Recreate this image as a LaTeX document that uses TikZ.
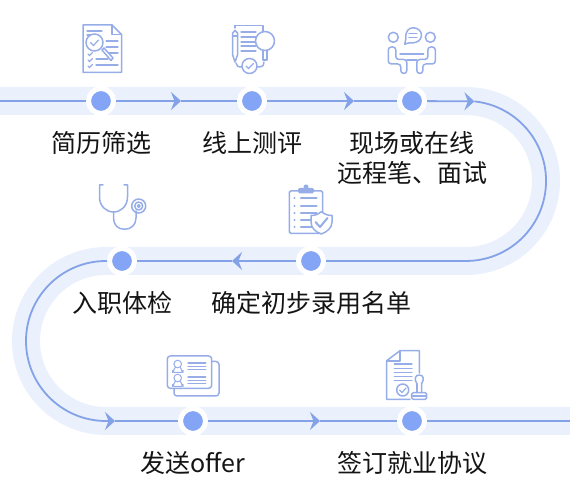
\documentclass[tikz,border=0pt]{standalone}
\usepackage{fontspec}
\setmainfont{Noto Sans CJK SC}
\usepackage{xcolor}
\definecolor{bandbg}{RGB}{234,240,252}
\definecolor{flowline}{RGB}{132,162,232}
\definecolor{dotfill}{RGB}{132,165,245}
\definecolor{iconline}{RGB}{150,173,232}
\definecolor{labeltext}{RGB}{20,20,20}
\usetikzlibrary{arrows.meta,positioning}
\tikzset{
  band/.style={draw=bandbg,line width=28pt},
  flow/.style={draw=flowline,line width=1.8pt},
  flowarr/.style={flow,-{Stealth[length=10pt,width=18pt,inset=3.5pt]}},
  dot/.style={circle,draw=white,fill=dotfill,line width=5pt,
    minimum size=25pt,inner sep=0pt},
  lbl/.style={align=center,text=labeltext,inner sep=0pt,
    font=\fontsize{25}{30}\selectfont},
  icon/.style={draw=iconline,line width=1.5pt,line cap=round,line join=round},
  iconbar/.style={draw=iconline,line width=1.2pt,line cap=round},
}

\begin{document}
\begin{tikzpicture}[x=1pt,y=1pt,node distance=15.5pt]
  \useasboundingbox (0,0) rectangle (570,500);
  \coordinate (lin)  at (0,399);
  \coordinate (tr)   at (466,399);
  \coordinate (tl)   at (106,239);
  \coordinate (lout) at (570,79);
  % arrow tips sit on these
  \coordinate (a1) at (181,399);
  \coordinate (a2) at (354,399);
  \coordinate (a3) at (474.4,398.6);
  \coordinate (a4) at (232,239);
  \coordinate (a5) at (115,79);
  \coordinate (a6) at (320,79);

  \draw[band] (lin) -- (tr) arc[start angle=90,end angle=-90,radius=80]
    -- (tl) arc[start angle=90,end angle=270,radius=80] -- (lout);

  \node (cv)    [dot] at (101,399) {};
  \node (test)  [dot] at (252,399) {};
  \node (site)  [dot] at (412,399) {};
  \node (list)  [dot] at (311,239) {};
  \node (exam)  [dot] at (122,239) {};
  \node (offer) [dot] at (193,79)  {};
  \node (sign)  [dot] at (412,79)  {};

  \node (lcv)    [lbl, below=of cv]    {简历筛选};
  \node (ltest)  [lbl, below=of test]  {线上测评};
  \node (lsite)  [lbl, below=of site]  {现场或在线\\远程笔、面试};
  \node (llist)  [lbl, below=of list]  {确定初步录用名单};
  \node (lexam)  [lbl, below=of exam]  {入职体检};
  \node (loffer) [lbl, below=of offer] {发送offer};
  \node (lsign)  [lbl, below=of sign]  {签订就业协议};

  \draw[flow] (lin) -- (cv);
  \draw[flowarr] (cv) -- (a1);
  \draw[flow] (a1) -- (test);
  \draw[flowarr] (test) -- (a2);
  \draw[flow] (a2) -- (site);
  \draw[flowarr] (site) -- (a3);
  \draw[flow] (a3) arc[start angle=84,end angle=-90,radius=80] -- (list);
  \draw[flowarr] (list) -- (a4);
  \draw[flow] (a4) -- (exam);
  \draw[flowarr] (exam) -- (tl) arc[start angle=90,end angle=270,radius=80] -- (a5);
  \draw[flow] (a5) -- (offer);
  \draw[flowarr] (offer) -- (a6);
  \draw[flow] (a6) -- (sign);
  \draw[flow] (sign) -- (lout);

  % icons, in image pixels with y going down
  \begin{scope}[shift={(0,500)},yscale=-1]
    % resume under a magnifier
    \draw[icon] (112,25) -- (83,25) -- (83,72.5) -- (121.5,72.5) -- (121.5,34.5) -- cycle;
    \draw[icon] (112,25) -- (112,34.5) -- (121.5,34.5);
    \foreach \ya/\xa/\xb in {31/87/102,35/87/95,41/106/118,47/106/118,53/108/118,59/96/108,65/96/118}
      \draw[iconbar] (\xa,\ya) -- (\xb,\ya);
    \foreach \ya in {54,60,66}
      \draw[iconbar] (88,\ya) -- (89.5,\ya+1.5) -- (92.5,\ya-1.5);
    \draw[icon,fill=white] (94.5,42.5) circle (8.5);
    \draw[iconbar] (90.5,42.5) -- (93.5,45.5) -- (98.5,40);
    \draw[icon,fill=white] (102,50) -- (104,48) -- (113,58) -- (111,60.5) -- cycle;

    % test paper, pen, magnifier
    \draw[icon] (235,28) -- (235,25.7) -- (263,25.7) -- (263,31);
    \draw[icon,fill=white] (232.7,33) -- (232.7,55) -- (235,62) -- (237.5,55) -- (237.5,33) -- (235,30.5) -- cycle;
    \draw[iconbar] (232.7,36) -- (237.5,36);
    \foreach \ya in {32,37,42,46,51}
      \draw[iconbar] (241,\ya) -- (256,\ya);
    \draw[icon,fill=white] (265,41) circle (9.5);
    \draw[icon] (263,50.5) -- (263,60) -- (267,60) -- (267,50.5);
    \draw[icon] (249.5,66) circle (7.5);
    \draw[iconbar] (246,66) -- (248.5,68.5) -- (253.5,63.5);
    \draw[icon] (236,63) .. controls (236,66) and (238,67) .. (242,67);
    \draw[icon] (257,67) -- (260,67) .. controls (263,67) and (264,65) .. (264,62);

    % two people at a table
    \draw[icon] (393.3,37.3) circle (5);
    \draw[icon] (430.3,37.3) circle (5);
    \draw[icon] (404.7,44.3) -- (405.8,39) .. controls (405,31) and (409,27.8) .. (413,27.8)
      .. controls (418,27.8) and (421.5,31) .. (421.5,35.3)
      .. controls (421.5,40) and (417,42.8) .. (413,42.8)
      .. controls (410.5,42.8) and (408.5,42.5) .. cycle;
    \draw[iconbar] (409,33.5) -- (417,33.5) (409,37.5) -- (417,37.5);
    \foreach \s in {1,-1} {
      \begin{scope}[shift={(411.8,0)},xscale=\s]
        \draw[icon,rounded corners=3pt] (-19,47) -- (-23.5,47) -- (-23.5,64) -- (-11,64)
          -- (-11,73.5) -- (-5,73.5) -- (-5,59.5) -- (-16,59.5) -- (-16,47) -- (-19,47);
      \end{scope}
    }
    \draw[icon] (400,54) -- (423.6,54);
    \draw[icon] (406.8,60) -- (416.8,60);

    % stethoscope
    \draw[icon] (103,185) -- (99.5,185) -- (99.5,197)
      .. controls (99.5,206) and (106,212) .. (113.5,212)
      .. controls (121,212) and (127.5,206) .. (127.5,197) -- (127.5,185) -- (124,185);
    \draw[icon] (113.5,212) -- (113.5,218) .. controls (113.5,225) and (118,229.3) .. (124.5,229.3)
      .. controls (131,229.3) and (136,225) .. (136,218) -- (136,211);
    \draw[icon] (138.7,206) circle (7);
    \draw[icon] (138.7,206) circle (4);
    \draw[icon] (138.7,206) circle (1.3);

    % checklist and shield
    \draw[icon,rounded corners=1.5pt] (298,191) -- (289.3,191) -- (289.3,233.3) -- (322.7,233.3) -- (322.7,191) -- (314,191);
    \fill[iconline,rounded corners=1.5pt] (298,193.5) rectangle (314,188);
    \fill[iconline] (306,187) circle (2.5);
    \foreach \ya in {198,206,213,220,227} {
      \draw[iconbar,line width=1.6pt] (300.7,\ya) -- (316.7,\ya);
      \fill[iconline] (294.5,\ya) circle (1.1);
    }
    \draw[icon,fill=white] (321.3,211.7) .. controls (325,214.5) and (328,215.5) .. (332,215.5)
      -- (332,222) .. controls (332,228) and (327,232) .. (321.3,234)
      .. controls (315.5,232) and (311,228) .. (311,222) -- (311,215.5)
      .. controls (315,215.5) and (318,214.5) .. cycle;
    \draw[icon,line width=2pt] (315.5,222) -- (320,227) -- (327.5,218);

    % two id cards
    \draw[icon,rounded corners=3pt] (174,388.3) -- (174,396) -- (219,396) -- (219,361.5) -- (211.7,361.5);
    \draw[icon,rounded corners=3pt] (167.3,356) rectangle (211.7,388.3);
    \foreach \ya in {364,378} {
      \draw[icon,line width=1pt] (177.7,\ya) circle (3.8);
      \draw[icon,line width=1pt,rounded corners=2pt] (175.5,\ya+3.5) -- (175.5,\ya+5) -- (172.5,\ya+6.5) -- (172.5,\ya+8.5)
        -- (183,\ya+8.5) -- (183,\ya+6.5) -- (180,\ya+5) -- (180,\ya+3.5);
      \draw[iconbar] (188,\ya-1) -- (205.7,\ya-1) (188,\ya+2.3) -- (205.7,\ya+2.3) (188,\ya+5.6) -- (205.7,\ya+5.6);
    }

    % contract and stamp
    \draw[icon] (419.3,373) -- (419.3,350.7) -- (400,350.7) -- (386.7,360.7) -- (386.7,399.3) -- (410,399.3);
    \draw[icon] (400,350.7) -- (400,361) -- (386.7,361);
    \foreach \ya in {364,368.3,372.3,376.7,380.5}
      \draw[iconbar] (394.3,\ya) -- (412,\ya);
    \draw[icon] (402.7,390) circle (6);
    \draw[iconbar] (399.5,390) -- (402,392.5) -- (406,388);
    \draw[icon] (417,384) .. controls (414,379) and (415,375) .. (419.3,375)
      .. controls (423.5,375) and (424.5,379) .. (421.5,384) -- (421.5,392.7);
    \draw[icon] (417,384) -- (417,392.7);
    \draw[icon,rounded corners=1.5pt] (411.7,392.7) rectangle (426.7,399.3);
    \draw[iconbar] (412,396) -- (426,396);
  \end{scope}
\end{tikzpicture}
\end{document}
